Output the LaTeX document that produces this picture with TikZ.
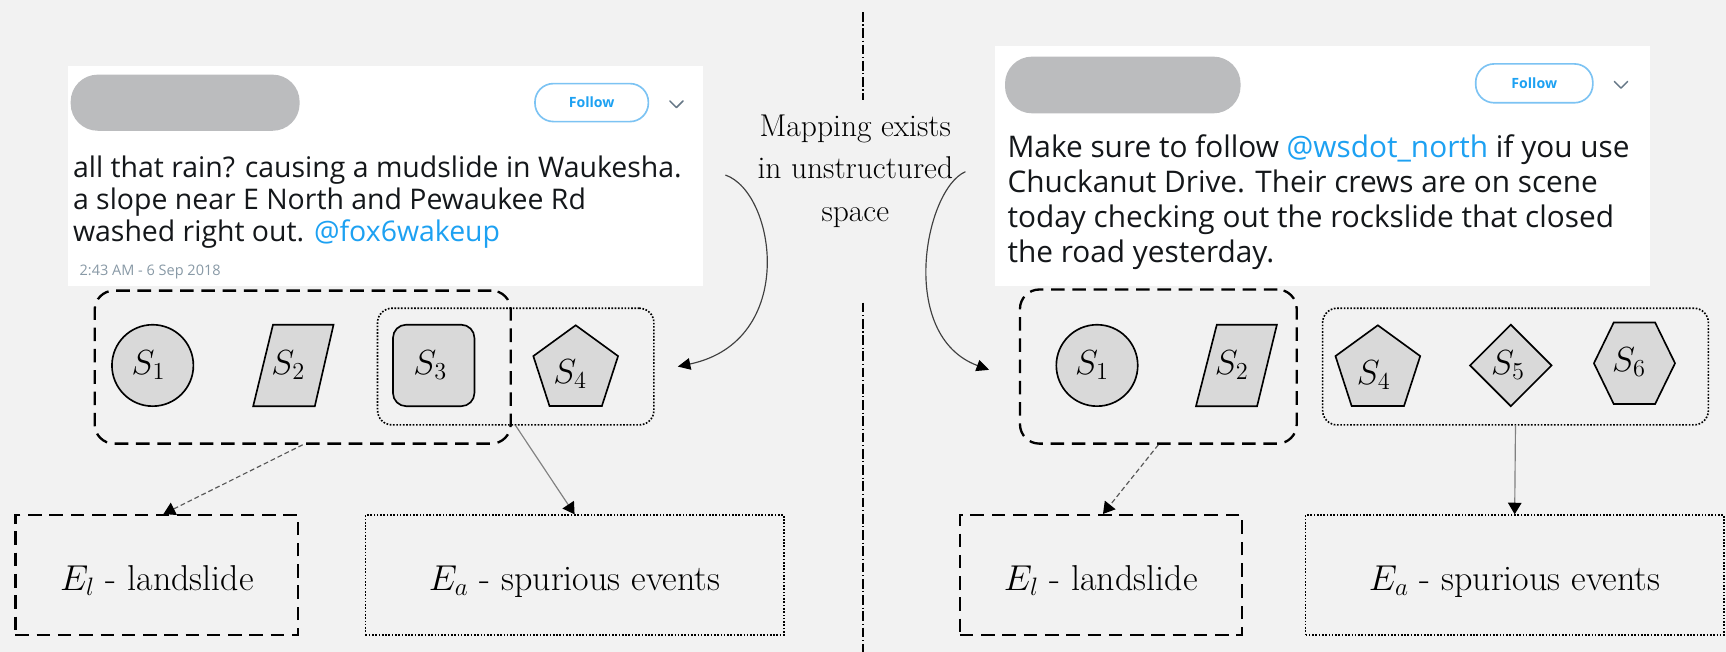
\RequirePackage{fix-cm}
\documentclass[tikz,border=0pt]{standalone}
\usepackage{fontspec}
\newfontfamily\twfont{Open Sans}
\usetikzlibrary{arrows.meta,calc}

\definecolor{bgc}{HTML}{F2F2F2}
\definecolor{twtext}{HTML}{14171A}
\definecolor{twblue}{HTML}{1DA1F2}
\definecolor{twgrey}{HTML}{8899A6}
\definecolor{chevgrey}{HTML}{657786}
\definecolor{btnline}{HTML}{7CC3F3}
\definecolor{pillgrey}{HTML}{BBBCBE}
\definecolor{shapefill}{HTML}{D9D9D9}

\newcommand\twL{\twfont\fontsize{14.7}{17}\selectfont}
\newcommand\twR{\twfont\fontsize{15.4}{18}\selectfont}
\newcommand\twS{\twfont\fontsize{7.5}{9}\selectfont}

\tikzset{
  sz/.style 2 args={minimum width=#1*0.02cm, minimum height=#2*0.02cm},
  card/.style={fill=white, draw=none, inner sep=0pt},
  namepill/.style={fill=pillgrey, draw=none, rounded corners=14pt, inner sep=0pt},
  followbtn/.style={draw=btnline, line width=0.85pt, fill=white, rounded corners=9.5pt,
    inner sep=0pt, text=twblue, font=\twfont\bfseries\fontsize{7.3}{8}\selectfont},
  chevron/.style={draw=chevgrey, line width=0.75pt, line cap=round, line join=round},
  twline/.style={anchor=base west, inner sep=0pt, text=twtext},
  maptxt/.style={anchor=base, inner sep=0pt, font=\fontsize{16.3}{19}\selectfont},
  dashgrp/.style={draw=black, line width=1.2pt, dash pattern=on 7pt off 4pt,
    rounded corners=10pt, inner sep=0pt},
  dotgrp/.style={draw=black, line width=0.85pt, dash pattern=on 0.85pt off 0.85pt,
    rounded corners=7.5pt, inner sep=0pt},
  evbox/.style={inner sep=0pt, font=\fontsize{18.6}{21}\selectfont,
    text height=15.8pt, text depth=0pt},
  dashbox/.style={evbox, draw=black, line width=1.2pt, dash pattern=on 7pt off 4pt},
  dotbox/.style={evbox, draw=black, line width=0.85pt, dash pattern=on 0.85pt off 0.85pt},
  shp/.style={draw=black, fill=shapefill, line width=0.85pt, line join=miter},
  slbl/.style={inner sep=0pt, font=\fontsize{18}{21}\selectfont},
  dasharr/.style={draw=black!65, line width=0.6pt, dash pattern=on 2.5pt off 1.5pt,
    -{Triangle[length=6pt,width=7pt,color=black]}},
  dotarr/.style={draw=black!50, line width=0.6pt,
    -{Triangle[length=6pt,width=7pt,color=black]}},
  bentarrow/.style={draw=black!75, line width=0.6pt,
    -{Triangle[length=6.5pt,width=6pt,color=black]}},
  divider/.style={draw=black, line width=0.55pt,
    dash pattern=on 5pt off 1.4pt on 0.6pt off 1.4pt},
}

\begin{document}
\begin{tikzpicture}[x=0.02cm, y=-0.02cm]
\fill[bgc] (0,0) rectangle (1568,592);
\useasboundingbox (0,0) rectangle (1568,592);

% centre divider (dash-dot), broken around the caption
\coordinate (dvA) at (784,11);
\coordinate (dvB) at (784,91);
\coordinate (dvC) at (784,275);
\coordinate (dvD) at (784,592);
\draw[divider] (dvA) -- (dvB);
\draw[divider] (dvC) -- (dvD);

% ---------- left tweet ----------
\node[card, sz={577}{200}] (cardL) at (350.5,160) {};
\node[namepill, sz={208}{51}] (pillL) at (168.2,93.3) {};
\node[followbtn, sz={103}{34.5}] (btnL) at (537.5,93.2) {Follow};
\coordinate (chevL) at (614.5,94.7);
\draw[chevron] ($(chevL)+(-6,-3)$) -- ($(chevL)+(0,3)$) -- ($(chevL)+(6,-3)$);
\node[twline, font=\twL] (tL1) at (66,161) {all that rain? causing a mudslide in Waukesha.};
\node[twline, font=\twL] (tL2) at (66,190) {a slope near E North and Pewaukee Rd};
\node[twline, font=\twL] (tL3) at (66,219) {washed right out. \textcolor{twblue}{@fox6wakeup}};
\node[twline, font=\twS, text=twgrey] (tL4) at (72,250.4) {2:43 AM - 6 Sep 2018};

% ---------- right tweet ----------
\node[card, sz={595}{218}] (cardR) at (1201.5,151) {};
\node[namepill, sz={214}{51.5}] (pillR) at (1020,77.2) {};
\node[followbtn, sz={106.4}{35.3}] (btnR) at (1393.8,75.7) {Follow};
\coordinate (chevR) at (1472.6,77);
\draw[chevron] ($(chevR)+(-6,-3)$) -- ($(chevR)+(0,3)$) -- ($(chevR)+(6,-3)$);
\node[twline, font=\twR] (tR1) at (915,143) {Make sure to follow \textcolor{twblue}{@wsdot\_north} if you use};
\node[twline, font=\twR] (tR2) at (915,175) {Chuckanut Drive. Their crews are on scene};
\node[twline, font=\twR] (tR3) at (915,206.5) {today checking out the rockslide that closed};
\node[twline, font=\twR] (tR4) at (915,238.6) {the road yesterday.};

% ---------- caption ----------
\node[maptxt] (map1) at (777,124) {Mapping exists};
\node[maptxt] (map2) at (777,162.5) {in unstructured};
\node[maptxt] (map3) at (777,201) {space};

% ---------- left structure groups ----------
\node[dashgrp, sz={378}{139}] (gL1) at (275,333.5) {};
\node[dotgrp, sz={251}{106}] (gL2) at (468.5,333) {};

\draw[shp] (138.7,332) circle[radius=0.74cm];
\draw[shp] (248,295) -- (303,295) -- (286,369) -- (230,369) -- cycle;
\draw[shp, rounded corners=6.8pt] (357,295) rectangle (431,369);
\draw[shp] (523,295.5) -- (561.5,323.5) -- (546.8,368.8) -- (499.2,368.8) -- (484.5,323.5) -- cycle;
\node[slbl] (s1L) at (135,332) {$S_1$};
\node[slbl] (s2L) at (262,332) {$S_2$};
\node[slbl] (s3L) at (391,332) {$S_3$};
\node[slbl] (s4L) at (518,340) {$S_4$};

% ---------- right structure groups ----------
\node[dashgrp, sz={251.4}{140}] (gR1) at (1052.3,333) {};
\node[dotgrp, sz={350.5}{106}] (gR2) at (1376.75,333) {};

\draw[shp] (996.6,332) circle[radius=0.74cm];
\draw[shp] (1105.4,295) -- (1160,295) -- (1142,369) -- (1086.5,369) -- cycle;
\draw[shp] (1251.7,295.5) -- (1290.2,323.5) -- (1275.5,368.8) -- (1227.9,368.8) -- (1213.2,323.5) -- cycle;
\draw[shp] (1372.5,295) -- (1409.5,332) -- (1372.5,369) -- (1335.5,332) -- cycle;
\draw[shp] (1448,330) -- (1466,293) -- (1503.6,293) -- (1521.7,330) -- (1503.6,367) -- (1466,367) -- cycle;
\node[slbl] (s1R) at (992,332) {$S_1$};
\node[slbl] (s2R) at (1119,332) {$S_2$};
\node[slbl] (s4R) at (1248,341) {$S_4$};
\node[slbl] (s5R) at (1370,332) {$S_5$};
\node[slbl] (s6R) at (1480,329) {$S_6$};

% ---------- event boxes ----------
\node[dashbox, sz={257}{109}] (ElL) at (142.5,522.5) {$E_l$ - landslide};
\node[dotbox, sz={380}{109}] (EaL) at (522,522.5) {$E_a$ - spurious events};
\node[dashbox, sz={256}{109}] (ElR) at (1000,522.5) {$E_l$ - landslide};
\node[dotbox, sz={380}{109}] (EaR) at (1376,522.5) {$E_a$ - spurious events};

% ---------- connectors ----------
\draw[dasharr] (gL1.south) -- ($(ElL.north)+(6,0)$);
\draw[dotarr] (gL2.south) -- (EaL.north);
\draw[dasharr] (gR1.south) -- ($(ElR.north)+(2,0)$);
\draw[dotarr] (gR2.south) -- (EaR.north);

\coordinate (cLs) at (659,159);
\coordinate (cLe) at ($(gL2.east)+(21,0)$);
\draw[bentarrow] (cLs) .. controls (705,175) and (725,310) .. (cLe);
\coordinate (cRs) at (877,156);
\coordinate (cRe) at ($(gR1.west)+(-27,3)$);
\draw[bentarrow] (cRs) .. controls (840,172) and (815,305) .. (cRe);
\end{tikzpicture}
\end{document}
